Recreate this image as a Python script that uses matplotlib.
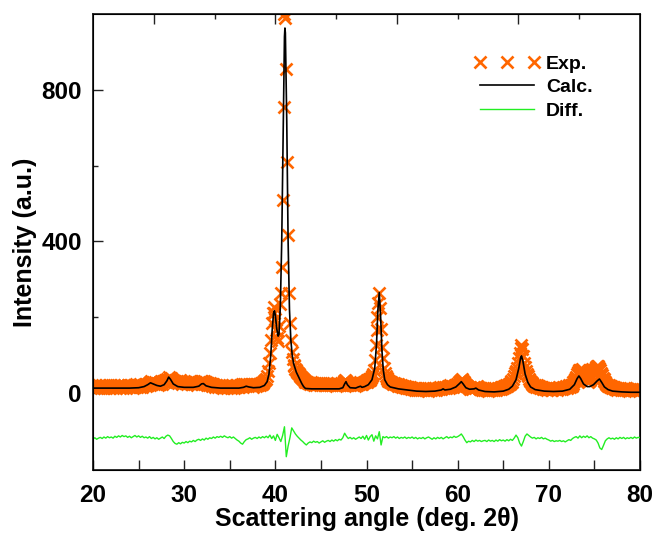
import numpy as np
import matplotlib
matplotlib.use('Agg')
import matplotlib.pyplot as plt
from matplotlib.ticker import FixedLocator

plt.rcParams['font.family'] = ['Liberation Sans', 'DejaVu Sans']
plt.rcParams['font.weight'] = 'bold'

# observed pattern, 20.0 - 80.0 deg, one row per degree (0.1 deg steps)
exp_start = 20.0
exp_step = 0.1
exp_counts = [
    18, 14, 21, 16, 12, 19, 15, 22, 17, 13,
    20, 16, 12, 18, 21, 15, 19, 13, 17, 22,
    15, 19, 14, 21, 17, 12, 18, 22, 16, 19,
    13, 20, 17, 15, 22, 18, 14, 19, 21, 16,
    18, 22, 15, 19, 13, 20, 17, 23, 16, 19,
    21, 17, 23, 19, 16, 22, 20, 25, 18, 22,
    24, 27, 22, 29, 31, 26, 30, 24, 28, 23,
    27, 22, 26, 29, 24, 28, 25, 31, 29, 34,
    32, 37, 35, 41, 38, 36, 39, 33, 35, 30,
    33, 28, 31, 26, 30, 34, 27, 31, 25, 29,
    32, 26, 30, 24, 29, 27, 31, 25, 28, 24,
    27, 23, 28, 25, 22, 26, 29, 27, 31, 28,
    32, 29, 33, 27, 30, 25, 27, 22, 26, 20,
    24, 19, 23, 21, 17, 22, 19, 16, 21, 18,
    15, 20, 17, 13, 19, 16, 21, 14, 18, 15,
    19, 14, 17, 21, 16, 13, 19, 15, 20, 17,
    16, 21, 18, 23, 19, 22, 25, 20, 24, 21,
    18, 23, 20, 25, 19, 22, 17, 24, 21, 19,
    23, 20, 25, 22, 27, 24, 29, 26, 31, 34,
    38, 45, 58, 80, 105, 140, 185, 212, 226, 210,
    195, 165, 145, 137, 178, 235, 265, 333, 510, 755,
    1000, 990, 855, 610, 417, 265, 184, 140, 109, 90,
    75, 70, 64, 60, 56, 52, 49, 45, 42, 40,
    37, 34, 32, 30, 28, 29, 26, 27, 25, 28,
    24, 27, 22, 26, 24, 21, 25, 23, 27, 22,
    25, 21, 26, 23, 20, 24, 22, 26, 21, 24,
    22, 26, 20, 24, 21, 25, 19, 23, 26, 21,
    24, 20, 25, 22, 27, 31, 35, 33, 28, 24,
    22, 25, 20, 23, 26, 21, 24, 19, 23, 25,
    22, 26, 24, 28, 25, 23, 27, 30, 28, 33,
    30, 34, 32, 37, 35, 40, 44, 50, 60, 87,
    127, 166, 201, 237, 263, 225, 170, 122, 92, 65,
    52, 45, 40, 36, 33, 31, 28, 30, 27, 25,
    26, 23, 24, 21, 23, 19, 22, 18, 20, 17,
    19, 15, 18, 14, 17, 13, 16, 12, 15, 11,
    14, 10, 13, 9, 12, 8, 11, 13, 9, 12,
    8, 11, 7, 10, 12, 8, 11, 6, 10, 9,
    11, 7, 10, 13, 9, 12, 8, 11, 14, 10,
    12, 15, 11, 14, 17, 13, 16, 12, 15, 18,
    14, 17, 20, 16, 19, 15, 18, 22, 19, 23,
    21, 25, 28, 31, 34, 37, 33, 29, 24, 21,
    18, 15, 12, 15, 11, 14, 10, 13, 17, 14,
    16, 19, 15, 12, 14, 10, 13, 9, 12, 8,
    11, 7, 10, 6, 9, 12, 8, 11, 7, 10,
    9, 12, 8, 11, 14, 10, 13, 11, 15, 17,
    14, 18, 16, 20, 18, 22, 25, 23, 28, 32,
    30, 38, 45, 52, 58, 66, 78, 92, 105, 120,
    127, 115, 98, 80, 68, 58, 50, 44, 38, 33,
    30, 27, 24, 22, 19, 21, 17, 20, 16, 18,
    14, 17, 12, 15, 11, 14, 10, 13, 9, 12,
    10, 13, 9, 12, 8, 11, 14, 10, 13, 9,
    12, 15, 11, 14, 10, 13, 16, 12, 15, 18,
    14, 17, 20, 16, 22, 19, 25, 28, 32, 38,
    42, 50, 56, 60, 62, 60, 63, 57, 50, 44,
    42, 36, 33, 30, 32, 35, 40, 45, 52, 58,
    58, 64, 68, 71, 70, 66, 60, 54, 47, 40,
    38, 32, 28, 24, 21, 18, 20, 16, 19, 14,
    16, 12, 15, 11, 14, 9, 13, 10, 12, 8,
    11, 7, 10, 13, 9, 12, 8, 11, 6, 10,
    8, 11, 7, 10, 6, 9, 12, 8, 11, 7,
    9,
]

# calculated profile (breakpoints)
calc_angle = [
    20.0, 22.0, 24.0, 25.0, 25.6, 26.0, 26.3, 26.6, 27.0, 27.4,
    27.8, 28.1, 28.3, 28.5, 28.8, 29.3, 30.0, 31.0, 31.6, 31.9,
    32.1, 32.4, 33.0, 34.0, 35.0, 36.0, 36.5, 36.8, 37.1, 37.6,
    38.3, 38.8, 39.1, 39.3, 39.5, 39.65, 39.8, 39.9, 40.0, 40.15,
    40.3, 40.4, 40.55, 40.7, 40.85, 41.0, 41.05, 41.1, 41.25, 41.4,
    41.55, 41.7, 41.85, 42.0, 42.3, 42.6, 42.9, 43.1, 43.3, 44.0,
    45.0, 46.0, 47.0, 47.4, 47.6, 47.75, 47.9, 48.2, 48.8, 49.1,
    49.35, 49.5, 49.8, 50.2, 50.6, 50.9, 51.1, 51.25, 51.4, 51.55,
    51.7, 51.84, 52.0, 52.3, 52.6, 53.5, 54.5, 55.5, 56.5, 57.5,
    58.2, 58.4, 58.6, 59.2, 59.8, 60.2, 60.4, 60.6, 60.9, 61.3,
    61.8, 62.0, 62.3, 63.0, 64.0, 65.0, 65.6, 66.0, 66.4, 66.7,
    66.9, 67.0, 67.15, 67.4, 67.7, 68.0, 68.5, 69.5, 70.5, 71.5,
    72.3, 72.8, 73.1, 73.3, 73.5, 73.8, 74.2, 74.5, 74.9, 75.3,
    75.55, 75.8, 76.1, 76.5, 77.0, 78.0, 79.0, 80.0,
]
calc_counts = [
    13, 13, 13, 14, 17, 22, 27, 24, 20, 18,
    22, 32, 42, 36, 24, 17, 15, 15, 18, 24,
    25, 19, 15, 13, 13, 13, 15, 18, 16, 14,
    15, 20, 30, 50, 100, 165, 210, 217, 205, 170,
    150, 155, 230, 400, 680, 940, 963, 950, 720, 400,
    220, 140, 100, 78, 55, 40, 25, 17, 12, 11,
    11, 11, 11, 14, 24, 30, 22, 14, 13, 16,
    18, 15, 17, 22, 35, 65, 130, 220, 265, 200,
    110, 61, 35, 22, 16, 11, 8, 5, 4, 5,
    8, 11, 8, 10, 16, 25, 30, 24, 14, 10,
    11, 13, 8, 4, 3, 5, 10, 18, 35, 65,
    92, 98, 85, 50, 28, 16, 9, 5, 4, 5,
    10, 22, 38, 45, 38, 24, 17, 17, 22, 32,
    37, 28, 16, 9, 5, 3, 2, 2,
]

# difference curve (offset), 20.0 - 80.0 deg in 0.2 deg steps
diff_start = 20.0
diff_step = 0.2
diff_counts = [
    -121, -118, -122, -119, -117,
    -120, -116, -119, -115, -118,
    -116, -119, -114, -117, -113,
    -116, -112, -115, -113, -117,
    -114, -118, -115, -112, -116,
    -113, -117, -114, -118, -116,
    -119, -115, -120, -117, -121,
    -118, -122, -119, -116, -120,
    -114, -111, -113, -120, -128,
    -133, -135, -131, -134, -130,
    -132, -128, -131, -127, -129,
    -125, -128, -124, -122, -125,
    -121, -124, -119, -122, -118,
    -120, -116, -119, -115, -117,
    -114, -117, -113, -116, -118,
    -115, -119, -116, -120, -124,
    -127, -132, -135, -128, -123,
    -121, -118, -122, -119, -117,
    -120, -116, -119, -115, -118,
    -114, -118, -111, -120, -113,
    -125, -109, -118, -128, -112,
    -89, -168, -140, -118, -92,
    -100, -108, -114, -119, -124,
    -128, -133, -137, -132, -129,
    -131, -127, -130, -128, -132,
    -129, -126, -130, -127, -125,
    -128, -124, -127, -123, -126,
    -122, -124, -118, -106, -114,
    -120, -117, -121, -118, -122,
    -119, -116, -120, -114, -122,
    -112, -124, -115, -110, -127,
    -113, -121, -102, -137, -115,
    -118, -115, -119, -116, -118,
    -115, -119, -116, -120, -117,
    -119, -116, -120, -117, -119,
    -116, -120, -117, -121, -118,
    -120, -117, -121, -118, -116,
    -119, -122, -118, -121, -117,
    -120, -117, -121, -118, -115,
    -119, -116, -118, -114, -117,
    -115, -112, -108, -115, -124,
    -131, -127, -129, -125, -128,
    -124, -127, -125, -128, -126,
    -125, -128, -124, -127, -125,
    -128, -124, -127, -123, -126,
    -124, -127, -123, -126, -122,
    -125, -119, -111, -118, -132,
    -140, -128, -114, -108, -112,
    -116, -119, -117, -121, -118,
    -120, -117, -121, -119, -122,
    -124, -127, -125, -128, -126,
    -127, -125, -128, -126, -129,
    -126, -123, -125, -120, -117,
    -115, -119, -113, -118, -114,
    -117, -113, -118, -115, -119,
    -121, -124, -132, -145, -149,
    -138, -126, -121, -118, -121,
    -119, -122, -118, -121, -117,
    -120, -117, -121, -118, -120,
    -117, -120, -116, -119, -117,
    -118,
]

y_major = [0, 400, 800]
y_minor = [200, 600]
top_ticks = [20 + k * 60 / 9 for k in range(1, 9)]

exp_angle = exp_start + exp_step * np.arange(len(exp_counts))
diff_angle = diff_start + diff_step * np.arange(len(diff_counts))

fig = plt.figure(figsize=(6.56, 5.34), dpi=100)
ax = fig.add_axes([0.1418, 0.1199, 0.8338, 0.8539])

ax.plot(exp_angle, exp_counts, 'x', color='#ff6600', ms=9, mew=1.9,
        ls='none', label='Exp.', zorder=2)
ax.plot(calc_angle, calc_counts, color='black', lw=1.2, label='Calc.', zorder=3)
ax.plot(diff_angle, diff_counts, color='#22ee22', lw=1.0, label='Diff.', zorder=4)

ax.set_xlim(20, 80)
ax.set_ylim(-203, 1000)
ax.set_xticks(range(20, 81, 10))
ax.set_xticks(range(25, 80, 10), minor=True)
ax.set_yticks(y_major)
ax.set_yticks(y_minor, minor=True)

ax.tick_params(axis='both', which='both', direction='in', width=1.0,
               color='#222222', labelsize=17.5, pad=8)
ax.tick_params(axis='x', which='both', length=7, pad=10)
ax.tick_params(axis='y', which='major', length=7.5)
ax.tick_params(axis='y', which='minor', length=3.5)
for s in ax.spines.values():
    s.set_linewidth(1.3)
    s.set_color('#222222')

ax.set_xlabel('Scattering angle (deg. 2θ)', fontsize=18, fontweight='bold', labelpad=0)
ax.set_ylabel('Intensity (a.u.)', fontsize=18, fontweight='bold', labelpad=3)

# top axis ticks
ax2 = ax.twiny()
ax2.set_xlim(20, 80)
ax2.xaxis.set_major_locator(FixedLocator(top_ticks[0::2]))
ax2.xaxis.set_minor_locator(FixedLocator(top_ticks[1::2]))
ax2.tick_params(axis='x', which='both', direction='in', labeltop=False,
                color='#222222', width=1.0)
ax2.tick_params(axis='x', which='major', length=7)
ax2.tick_params(axis='x', which='minor', length=3.5)

leg = ax.legend(loc='upper left', bbox_to_anchor=(0.6965, 0.91), frameon=False,
                numpoints=3, handlelength=3.4, handletextpad=0.3,
                labelspacing=0.3, borderpad=0, borderaxespad=0,
                prop={'size': 14, 'weight': 'bold'})

fig.savefig('out.png', dpi=100)
